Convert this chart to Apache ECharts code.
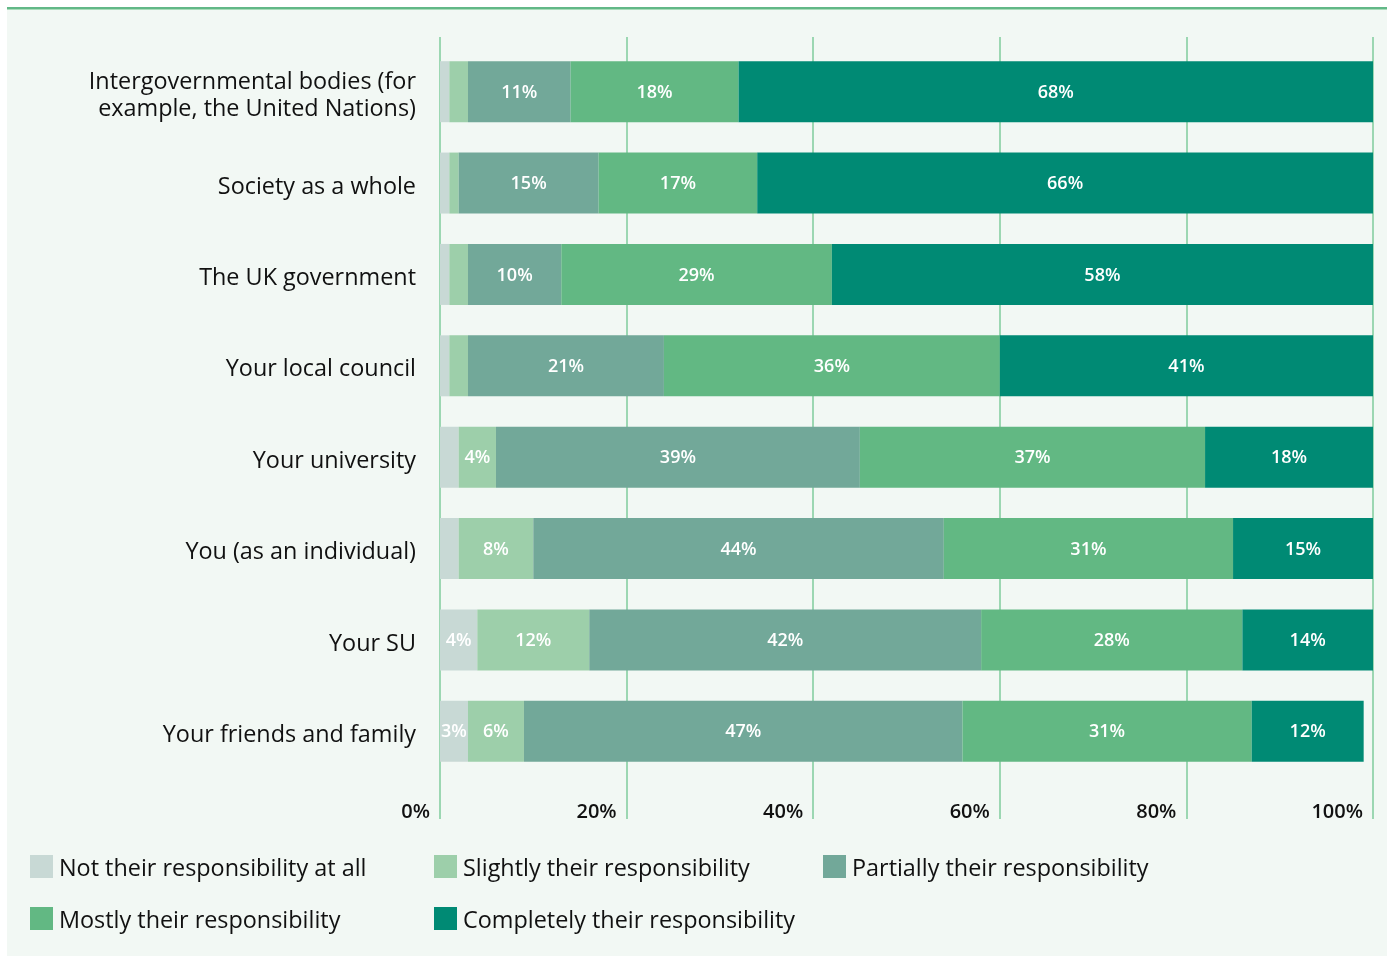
<!DOCTYPE html>
<html>
<head>
<meta charset="utf-8">
<title>Who is responsible</title>
<script src="https://cdn.jsdelivr.net/npm/echarts@6/dist/echarts.min.js"></script>
<style>
  html, body { margin: 0; padding: 0; background: #ffffff; }
  #chart { width: 1387px; height: 956px; }
</style>
</head>
<body>
<div id="chart"></div>
<script>
// Bodies asked about, top to bottom
const categories = [
  'Intergovernmental bodies (for\nexample, the United Nations)',
  'Society as a whole',
  'The UK government',
  'Your local council',
  'Your university',
  'You (as an individual)',
  'Your SU',
  'Your friends and family'
];

// Share of respondents (%) per answer, same order as categories
const notAtAll   = [1, 1, 1, 1, 2, 2, 4, 3];
const slightly   = [2, 1, 2, 2, 4, 8, 12, 6];
const partially  = [11, 15, 10, 21, 39, 44, 42, 47];
const mostly     = [18, 17, 29, 36, 37, 31, 28, 31];
const completely = [68, 66, 58, 41, 18, 15, 14, 12];

const seriesNames = [
  'Not their responsibility at all',
  'Slightly their responsibility',
  'Partially their responsibility',
  'Mostly their responsibility',
  'Completely their responsibility'
];
const seriesData = [notAtAll, slightly, partially, mostly, completely];
const seriesColors = ['#c8d9d5', '#9dcfaa', '#72a899', '#62b883', '#008a74'];

const axisTicks = [0, 20, 40, 60, 80, 100];

const FONT = '"Open Sans", Lato, sans-serif';

const chart = echarts.init(document.getElementById('chart'));

const series = seriesData.map((data, i) => ({
  name: seriesNames[i],
  type: 'bar',
  stack: 'total',
  xAxisIndex: 1,
  yAxisIndex: 1,
  barWidth: 61,
  data: data,
  itemStyle: { color: seriesColors[i] },
  label: {
    show: true,
    position: 'inside',
    color: '#ffffff',
    fontFamily: FONT,
    fontSize: 18,
    fontWeight: 600,
    offset: [0, 1],
    formatter: p => (p.value >= 3 ? p.value + '%' : '')
  },
  emphasis: { disabled: true }
}));

// Square swatch; the empty sub-path below it lowers the text a little
const swatch = 'path://M0,0H23V23H0Z M0,28L0.01,28Z';

// One legend block per answer, laid out in two rows
const legendPos = [
  { left: 30, top: 855 },
  { left: 434, top: 855 },
  { left: 823, top: 855 },
  { left: 30, top: 907 },
  { left: 434, top: 907 }
];
const legends = seriesNames.map((n, i) => ({
  data: [n],
  left: legendPos[i].left,
  top: legendPos[i].top,
  icon: swatch,
  itemWidth: 23,
  itemHeight: 28,
  padding: 0,
  selectedMode: false,
  textStyle: {
    fontFamily: FONT,
    fontSize: 23.4,
    color: '#111111',
    padding: [0, 0, 0, 1]
  }
}));

chart.setOption({
  animation: false,
  backgroundColor: '#ffffff',
  graphic: [
    { type: 'rect', left: 7, top: 9, shape: { width: 1380, height: 947 }, style: { fill: '#f2f8f4' }, z: -10 },
    { type: 'rect', left: 7, top: 7, shape: { width: 1380, height: 2 }, style: { fill: '#62b887' }, z: -9 },
    { type: 'rect', left: 7, top: 9, shape: { width: 1380, height: 1 }, style: { fill: '#a9dcba' }, z: -9 }
  ],
  legend: legends,
  grid: [
    // percentage gridlines and tick labels
    { left: 440, right: 14, top: 37, bottom: 137 },
    // stacked bars
    { left: 440, right: 14, top: 46, bottom: 179 },
    // category names, set a touch lower than the bar centres
    { left: 440, right: 14, top: 50, bottom: 175 }
  ],
  xAxis: [
    {
      gridIndex: 0,
      type: 'value',
      min: axisTicks[0],
      max: axisTicks[axisTicks.length - 1],
      interval: axisTicks[1] - axisTicks[0],
      axisLine: { show: false },
      axisTick: { show: false },
      splitLine: { show: true, lineStyle: { color: '#7fcd9c', width: 1.5 } },
      axisLabel: {
        inside: true,
        margin: -3,
        align: 'right',
        padding: [0, 10, 0, 0],
        formatter: '{value}%',
        fontFamily: FONT,
        fontSize: 20,
        fontWeight: 600,
        color: '#111111'
      }
    },
    {
      gridIndex: 1,
      type: 'value',
      min: 0,
      max: 100,
      show: false,
      splitLine: { show: false }
    },
    {
      gridIndex: 2,
      type: 'value',
      min: 0,
      max: 100,
      show: false,
      splitLine: { show: false }
    }
  ],
  yAxis: [
    { gridIndex: 0, type: 'value', show: false },
    {
      gridIndex: 1,
      type: 'category',
      inverse: true,
      data: categories,
      axisLine: { show: false },
      axisTick: { show: false },
      axisLabel: { show: false }
    },
    {
      gridIndex: 2,
      type: 'category',
      inverse: true,
      data: categories,
      axisLine: { show: false },
      axisTick: { show: false },
      splitLine: { show: false },
      axisLabel: {
        margin: 24,
        fontFamily: FONT,
        fontSize: 23.4,
        lineHeight: 27,
        color: '#111111',
        align: 'right'
      }
    }
  ],
  series: series
});
</script>
</body>
</html>
